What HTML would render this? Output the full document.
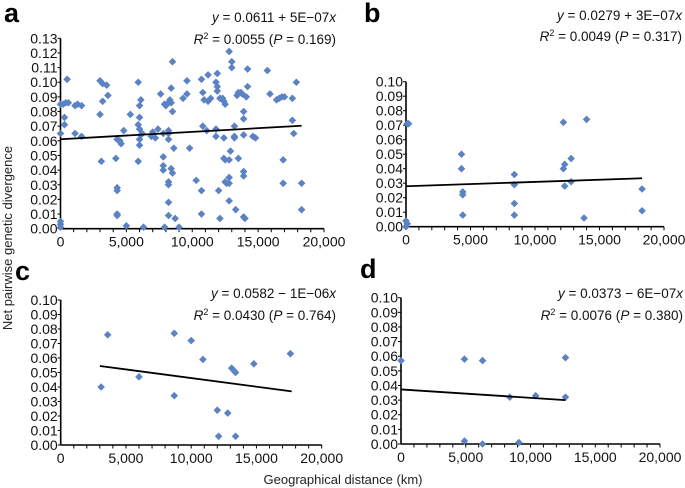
<!DOCTYPE html>
<html><head><meta charset="utf-8">
<style>
html,body{margin:0;padding:0;background:#fff;}
svg{display:block;font-family:"Liberation Sans",Arial,sans-serif;}
</style></head>
<body>
<svg id="chart" width="685" height="488" viewBox="0 0 685 488" xmlns="http://www.w3.org/2000/svg">
<text x="0" y="0" transform="translate(12,238) rotate(-90)" text-anchor="middle" font-size="13" fill="#222">Net pairwise genetic divergence</text>
<text x="343" y="484" text-anchor="middle" font-size="13" fill="#222">Geographical distance (km)</text>
</svg>
<script>
// Panel a data
const aX = [0,0,0,0,0,200,400,600,300,300,500,1100,1300,1600,1100,1600,
3000,3200,3500,3000,3200,3600,3100,
4300,4500,4600,4800,4200,4300,4300,4300,4300,5000,5300,
5900,6000,6100,6000,5900,6000,6100,6000,6000,5900,6200,6300,
6900,7000,7200,7400,7600,7800,7900,7800,7800,7800,7900,
8000,8200,8300,8200,8200,8200,8400,8400,8500,8500,8400,8500,8200,8200,8200,8200,8600,8700,9000,
9300,9600,9600,9800,10300,
10700,10800,10900,10800,10700,10700,11200,11200,11400,11100,
11800,11900,11900,11800,11800,11900,12100,12300,12000,12100,12400,12500,12400,12400,12500,12500,12600,
12800,13000,13000,12900,12800,12800,12800,12800,13200,13200,13200,13300,13400,13500,13500,13700,
13800,13900,13900,13900,13900,13900,13900,14000,14100,14200,14200,
14600,14800,15700,15900,16400,16600,16800,17000,16900,16900,17600,17600,17700,17900,18300,18300];
const aY = [0.005,0.003,0.001,0.065,0.085,0.085,0.086,0.086,0.076,0.071,0.102,0.084,0.085,0.084,0.065,0.063,
0.101,0.099,0.098,0.078,0.087,0.091,0.046,
0.061,0.060,0.058,0.067,0.048,0.028,0.026,0.009,0.010,0.002,0.078,
0.100,0.084,0.088,0.076,0.071,0.068,0.064,0.061,0.057,0.046,0.065,0.001,
0.063,0.066,0.062,0.068,0.092,0.065,0.085,0.049,0.043,0.040,0.001,
0.084,0.086,0.088,0.067,0.061,0.065,0.096,0.086,0.114,0.080,0.041,0.038,0.032,0.030,0.018,0.009,0.055,0.007,0.001,
0.089,0.101,0.092,0.055,0.033,
0.102,0.093,0.088,0.070,0.026,0.010,0.105,0.087,0.089,0.067,
0.100,0.097,0.094,0.068,0.063,0.106,0.089,0.089,0.026,0.007,0.087,0.085,0.062,0.048,0.047,0.032,0.031,
0.121,0.114,0.110,0.053,0.047,0.035,0.031,0.019,0.070,0.063,0.062,0.013,0.091,0.093,0.048,0.093,
0.092,0.075,0.080,0.064,0.039,0.036,0.008,0.007,0.090,0.109,0.097,
0.063,0.062,0.108,0.092,0.088,0.089,0.090,0.090,0.047,0.031,0.074,0.089,0.065,0.100,0.031,0.013];
const aLineX = [0,18300];
const aLineY = [0.0611,0.0703];
// Panel b data
const bX = [100,200,0,100,0,4300,4300,4400,4400,4400,8400,8400,8400,8400,12200,12300,12200,12300,12800,12800,14000,13800,18300,18300];
const bY = [0.071,0.071,0.004,0.002,0.000,0.050,0.040,0.024,0.022,0.008,0.036,0.029,0.016,0.008,0.072,0.043,0.040,0.028,0.047,0.031,0.074,0.006,0.026,0.011];
const bLineX = [0,18300];
const bLineY = [0.0279,0.0334];
// Panel c data
const cX = [3100,3600,6000,8700,8700,10000,10900,12000,12100,12800,13100,13300,13400,13400,14800,17600];
const cY = [0.040,0.076,0.047,0.077,0.034,0.072,0.059,0.024,0.006,0.022,0.053,0.051,0.050,0.006,0.056,0.063];
const cLineX = [3000,17700];
const cLineY = [0.0545,0.0370];
// Panel d data
const dX = [0,4900,6300,12700,8400,10400,12700,4900,6300,9100];
const dY = [0.057,0.058,0.057,0.059,0.032,0.033,0.032,0.002,0.000,0.001];
const dLineX = [0,12700];
const dLineY = [0.0373,0.0300];
// Tick labels
const xTickLabels = ["0","5,000","10,000","15,000","20,000"];
const xTickValues = [0,5000,10000,15000,20000];
const yTicksA = ["0.00","0.01","0.02","0.03","0.04","0.05","0.06","0.07","0.08","0.09","0.10","0.11","0.12","0.13"];
const yTicksB = ["0.00","0.01","0.02","0.03","0.04","0.05","0.06","0.07","0.08","0.09","0.10"];

const NS = "http://www.w3.org/2000/svg";
const svg = document.getElementById('chart');
function mk(tag, attrs, parent){
  const e = document.createElementNS(NS, tag);
  for (const k in attrs) e.setAttribute(k, attrs[k]);
  (parent||svg).appendChild(e);
  return e;
}
const panels = [
  {id:'a', X:aX, Y:aY, LX:aLineX, LY:aLineY, yt:yTicksA, ymax:0.13, x0:60.5, x1:324, y0:228.7, y1:38.3,
   letter:[4,22], eq:["y = 0.0611 + 5E\u221207x","0.0055","0.169"], eqX:336, eqY:[22,44]},
  {id:'b', X:bX, Y:bY, LX:bLineX, LY:bLineY, yt:yTicksB, ymax:0.10, x0:406, x1:664, y0:226.7, y1:81.7,
   letter:[364,22], eq:["y = 0.0279 + 3E\u221207x","0.0049","0.317"], eqX:682, eqY:[20,41]},
  {id:'c', X:cX, Y:cY, LX:cLineX, LY:cLineY, yt:yTicksB, ymax:0.10, x0:60.7, x1:321.7, y0:445, y1:300,
   letter:[15,280], eq:["y = 0.0582 \u2212 1E\u221206x","0.0430","0.764"], eqX:336, eqY:[298,320]},
  {id:'d', X:dX, Y:dY, LX:dLineX, LY:dLineY, yt:yTicksB, ymax:0.10, x0:401, x1:660, y0:444, y1:297.7,
   letter:[360,278], eq:["y = 0.0373 \u2212 6E\u221207x","0.0076","0.380"], eqX:683, eqY:[298,320]}
];
panels.forEach(p => {
  const g = mk('g', {});
  
  
  const sx = v => p.x0 + (v/20000)*(p.x1-p.x0);
  const sy = v => p.y0 - (v/p.ymax)*(p.y0-p.y1);
  const L = mk('text', {x:p.letter[0], y:p.letter[1], 'font-size':27, 'font-weight':'bold', fill:'#000'}, g);
  L.textContent = p.id;
  
  
  const e1 = mk('text', {x:p.eqX, y:p.eqY[0], 'font-size':13.5, 'text-anchor':'end', fill:'#111'}, g);
  e1.innerHTML = p.eq[0].replace(/^y/, '<tspan font-style="italic">y</tspan>').replace(/x$/, '<tspan font-style="italic">x</tspan>');
  
  
  const e2 = mk('text', {x:p.eqX, y:p.eqY[1], 'font-size':13.5, 'text-anchor':'end', fill:'#111'}, g);
  e2.innerHTML = '<tspan font-style="italic">R</tspan><tspan font-size="9" dy="-5">2</tspan><tspan dy="5"> = ' + p.eq[1] + ' (</tspan><tspan font-style="italic">P</tspan><tspan> = ' + p.eq[2] + ')</tspan>';
  
  
  const ya = mk('line', {x1:p.x0, x2:p.x0, y1:p.y1, y2:p.y0, stroke:'#000', 'stroke-width':1.6}, g);
  
  
  p.yt.forEach((t,i) => {
    const v = i*0.01, y = sy(v);
    const tk = mk('line', {x1:p.x0-3, x2:p.x0, y1:y, y2:y, stroke:'#000', 'stroke-width':1}, g);
    
    
    const tl = mk('text', {x:p.x0-3, y:y+5, 'font-size':14, 'text-anchor':'end', fill:'#111'}, g);
    tl.textContent = t;
    
    
  });
  const xa = mk('line', {x1:p.x0, x2:p.x1, y1:p.y0, y2:p.y0, stroke:'#000', 'stroke-width':1.6}, g);
  
  
  for (let k=1000;k<=20000;k+=1000){
    const tk = mk('line', {x1:sx(k), x2:sx(k), y1:p.y0, y2:p.y0+3.5, stroke:'#000', 'stroke-width':1}, g);
    
    
  }
  xTickValues.forEach((v,i) => {
    const tl = mk('text', {x:sx(v), y:p.y0+18, 'font-size':14, 'text-anchor':'middle', fill:'#111'}, g);
    tl.textContent = xTickLabels[i];
    
    
  });
  p.X.forEach((xv,i) => {
    const cx = sx(xv), cy = sy(p.Y[i]), r = 3.8;
    const pt = mk('polygon', {points:`${cx},${cy-r} ${cx+r},${cy} ${cx},${cy+r} ${cx-r},${cy}`, fill:'#5b82c3'}, g);
    
    
  });
  const rl = mk('line', {x1:sx(p.LX[0]), y1:sy(p.LY[0]), x2:sx(p.LX[1]), y2:sy(p.LY[1]), stroke:'#000', 'stroke-width':1.8}, g);
  
  
});
</script>
</body></html>
